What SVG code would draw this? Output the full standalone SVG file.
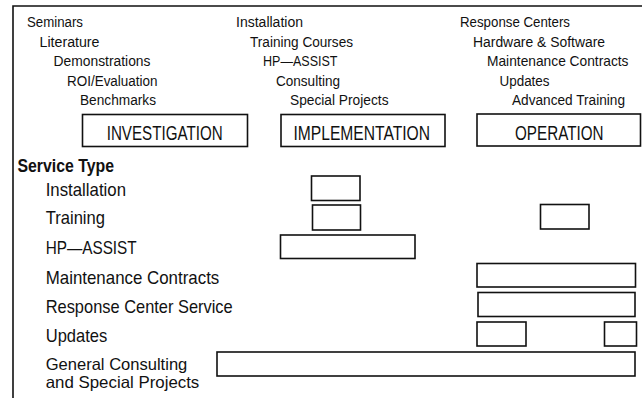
<svg xmlns="http://www.w3.org/2000/svg" width="642" height="398" viewBox="0 0 642 398">
<style>
text{font-family:"Liberation Sans",Arial,sans-serif;fill:#111}
.s{font-size:15.5px}
.p{font-size:20px}
.l{font-size:19px}
.h{font-size:18px;font-weight:bold}
.box{fill:none;stroke:#111;stroke-width:1.6}
.bar{fill:#fff;stroke:#111;stroke-width:1.6}
.frame{stroke:#111;stroke-width:1.6;fill:none}
</style>
<rect width="642" height="398" fill="#fff"/>
<g id="frame">
<path class="frame" d="M13,398 V6 H642"/>
</g>
<g id="lists">
<text class="s" x="27" y="27" textLength="56" lengthAdjust="spacingAndGlyphs">Seminars</text>
<text class="s" x="39.5" y="46.5" textLength="60" lengthAdjust="spacingAndGlyphs">Literature</text>
<text class="s" x="53.5" y="66" textLength="97" lengthAdjust="spacingAndGlyphs">Demonstrations</text>
<text class="s" x="67" y="85.5" textLength="90.5" lengthAdjust="spacingAndGlyphs">ROI/Evaluation</text>
<text class="s" x="80" y="105" textLength="76" lengthAdjust="spacingAndGlyphs">Benchmarks</text>
<text class="s" x="236" y="27" textLength="67" lengthAdjust="spacingAndGlyphs">Installation</text>
<text class="s" x="250" y="46.5" textLength="103" lengthAdjust="spacingAndGlyphs">Training Courses</text>
<text class="s" x="263" y="66" textLength="74.5" lengthAdjust="spacingAndGlyphs">HP—ASSIST</text>
<text class="s" x="276" y="85.5" textLength="64" lengthAdjust="spacingAndGlyphs">Consulting</text>
<text class="s" x="290" y="105" textLength="98.5" lengthAdjust="spacingAndGlyphs">Special Projects</text>
<text class="s" x="460" y="27" textLength="110" lengthAdjust="spacingAndGlyphs">Response Centers</text>
<text class="s" x="473" y="46.5" textLength="132" lengthAdjust="spacingAndGlyphs">Hardware &amp; Software</text>
<text class="s" x="487" y="66" textLength="141.5" lengthAdjust="spacingAndGlyphs" style="font-size:14.5px">Maintenance Contracts</text>
<text class="s" x="499.5" y="85.5" textLength="50" lengthAdjust="spacingAndGlyphs">Updates</text>
<text class="s" x="512" y="105" textLength="113" lengthAdjust="spacingAndGlyphs">Advanced Training</text>
</g>
<g id="phase-investigation">
<rect class="box" x="82.5" y="114.5" width="165" height="32"/>
<text class="p" x="106.7" y="140" textLength="116" lengthAdjust="spacingAndGlyphs">INVESTIGATION</text>
</g>
<g id="phase-implementation">
<rect class="box" x="281" y="114.5" width="164" height="32"/>
<text class="p" x="293.5" y="140" textLength="136.5" lengthAdjust="spacingAndGlyphs">IMPLEMENTATION</text>
</g>
<g id="phase-operation">
<rect class="box" x="477" y="114" width="163.5" height="32"/>
<text class="p" x="515" y="140" textLength="88.5" lengthAdjust="spacingAndGlyphs">OPERATION</text>
</g>
<g id="labels">
<text class="h" x="17.5" y="171.5" textLength="96.5" lengthAdjust="spacingAndGlyphs">Service Type</text>
<text class="l" x="45.7" y="195.7" textLength="80.3" lengthAdjust="spacingAndGlyphs">Installation</text>
<text class="l" x="45.7" y="224.3" textLength="59.3" lengthAdjust="spacingAndGlyphs">Training</text>
<text class="l" x="45.7" y="254" textLength="91" lengthAdjust="spacingAndGlyphs">HP—ASSIST</text>
<text class="l" x="45.7" y="284" textLength="173.6" lengthAdjust="spacingAndGlyphs">Maintenance Contracts</text>
<text class="l" x="45.7" y="313.3" textLength="187" lengthAdjust="spacingAndGlyphs">Response Center Service</text>
<text class="l" x="45.7" y="341.7" textLength="61.6" lengthAdjust="spacingAndGlyphs">Updates</text>
<text class="l" style="font-size:16.5px"><tspan x="45.7" y="369.5" textLength="141.6" lengthAdjust="spacingAndGlyphs">General Consulting</tspan><tspan x="45.7" y="388" textLength="153.6" lengthAdjust="spacingAndGlyphs">and Special Projects</tspan></text>
</g>
<g id="bars">
<rect id="bar-installation" class="bar" x="311.5" y="176" width="48.5" height="24.5"/>
<rect id="bar-training-impl" class="bar" x="312.5" y="205" width="48" height="25"/>
<rect id="bar-training-op" class="bar" x="540.5" y="204.5" width="48.5" height="24.5"/>
<rect id="bar-hpassist" class="bar" x="280.5" y="235" width="134.5" height="23.5"/>
<rect id="bar-maintenance" class="bar" x="477" y="263.5" width="158.5" height="23.5"/>
<rect id="bar-response" class="bar" x="478" y="292.5" width="157" height="24"/>
<rect id="bar-updates-1" class="bar" x="477" y="322" width="49" height="24"/>
<rect id="bar-updates-2" class="bar" x="604.5" y="322" width="32" height="24"/>
<rect id="bar-consulting" class="bar" x="217" y="352" width="418" height="24"/>
</g>
</svg>
